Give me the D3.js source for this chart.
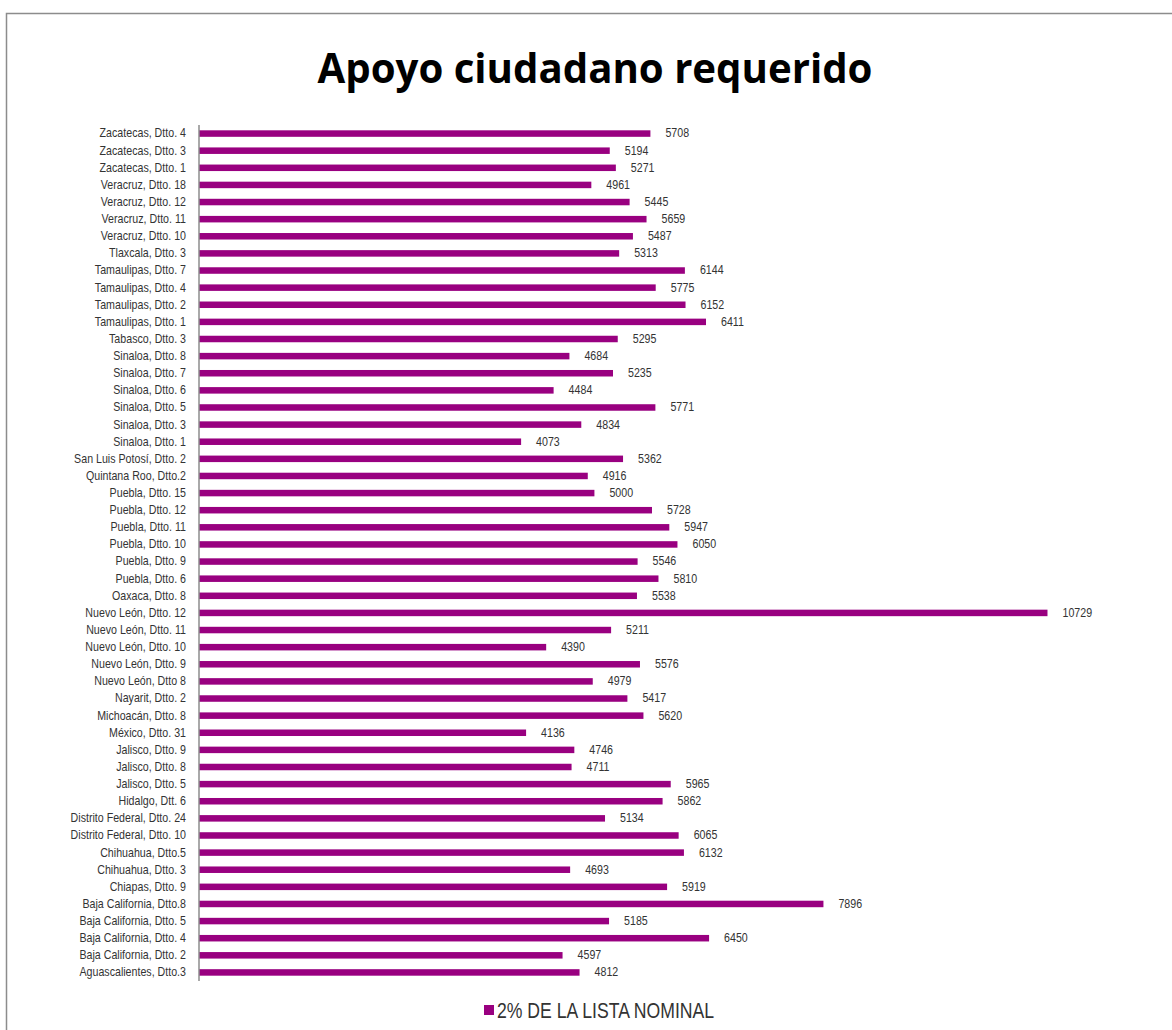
<!DOCTYPE html>
<html>
<head>
<meta charset="utf-8">
<script src="https://cdn.jsdelivr.net/npm/d3@7"></script>
<style>
  html, body { margin: 0; padding: 0; background: #fff; }
  svg { display: block; }
</style>
</head>
<body>
<svg id="chart" width="1172" height="1030"></svg>
<script>
// ---- Data (top to bottom as shown) ----
const categories = [
  "Zacatecas, Dtto. 4", "Zacatecas, Dtto. 3", "Zacatecas, Dtto. 1",
  "Veracruz, Dtto. 18", "Veracruz, Dtto. 12", "Veracruz, Dtto. 11", "Veracruz, Dtto. 10",
  "Tlaxcala, Dtto. 3",
  "Tamaulipas, Dtto. 7", "Tamaulipas, Dtto. 4", "Tamaulipas, Dtto. 2", "Tamaulipas, Dtto. 1",
  "Tabasco, Dtto. 3",
  "Sinaloa, Dtto. 8", "Sinaloa, Dtto. 7", "Sinaloa, Dtto. 6", "Sinaloa, Dtto. 5", "Sinaloa, Dtto. 3", "Sinaloa, Dtto. 1",
  "San Luis Potosí, Dtto. 2", "Quintana Roo, Dtto.2",
  "Puebla, Dtto. 15", "Puebla, Dtto. 12", "Puebla, Dtto. 11", "Puebla, Dtto. 10", "Puebla, Dtto. 9", "Puebla, Dtto. 6",
  "Oaxaca, Dtto. 8",
  "Nuevo León, Dtto. 12", "Nuevo León, Dtto. 11", "Nuevo León, Dtto. 10", "Nuevo León, Dtto. 9", "Nuevo León, Dtto 8",
  "Nayarit, Dtto. 2", "Michoacán, Dtto. 8", "México, Dtto. 31",
  "Jalisco, Dtto. 9", "Jalisco, Dtto. 8", "Jalisco, Dtto. 5",
  "Hidalgo, Dtt. 6",
  "Distrito Federal, Dtto. 24", "Distrito Federal, Dtto. 10",
  "Chihuahua, Dtto.5", "Chihuahua, Dtto. 3",
  "Chiapas, Dtto. 9",
  "Baja California, Dtto.8", "Baja California, Dtto. 5", "Baja California, Dtto. 4", "Baja California, Dtto. 2",
  "Aguascalientes, Dtto.3"
];
const values = [
  5708, 5194, 5271,
  4961, 5445, 5659, 5487,
  5313,
  6144, 5775, 6152, 6411,
  5295,
  4684, 5235, 4484, 5771, 4834, 4073,
  5362, 4916,
  5000, 5728, 5947, 6050, 5546, 5810,
  5538,
  10729, 5211, 4390, 5576, 4979,
  5417, 5620, 4136,
  4746, 4711, 5965,
  5862,
  5134, 6065,
  6132, 4693,
  5919,
  7896, 5185, 6450, 4597,
  4812
];
const seriesName = "2% DE LA LISTA NOMINAL";
const titleText = "Apoyo ciudadano requerido";
const xDomain = [0, 12000];

// ---- Font detection: narrow font ----
function hasFont(name) {
  const c = document.createElement("canvas").getContext("2d");
  const s = "Dtto. Zacatecas 0123456789";
  c.font = "20px monospace";
  const w0 = c.measureText(s).width;
  c.font = "20px '" + name + "', monospace";
  return c.measureText(s).width !== w0;
}
const narrowAvail = hasFont("Liberation Sans Narrow");
const labelFont = narrowAvail ? "'Liberation Sans Narrow', 'Arial Narrow', sans-serif" : "'Liberation Sans', Arial, sans-serif";
const squeeze = narrowAvail ? 1 : 0.82;

const data = categories.map((c, i) => ({ cat: c, val: values[i] }));

const svg = d3.select("#chart");
const color = "#990080";
const textColor = "#333333";

// frame
svg.append("path")
  .attr("d", "M6.5,1030 L6.5,13.5 L1172,13.5")
  .attr("fill", "none").attr("stroke", "#8c8c8c").attr("stroke-width", 1.5);

// title
svg.append("text")
  .attr("x", 595).attr("y", 83)
  .attr("text-anchor", "middle")
  .attr("font-family", "'Open Sans', 'Noto Sans', sans-serif")
  .attr("font-weight", "bold")
  .attr("font-size", 42)
  .attr("fill", "#000")
  .attr("textLength", 555)
  .attr("lengthAdjust", "spacingAndGlyphs")
  .text(titleText);

const x = d3.scaleLinear().domain(xDomain).range([199, 1148]);
const y = d3.scaleBand().domain(categories).range([125, 981]).paddingInner(0.62).paddingOuter(0.31);

// bars
svg.append("g").selectAll("rect").data(data).join("rect")
  .attr("x", x(0))
  .attr("y", d => y(d.cat))
  .attr("width", d => x(d.val) - x(0))
  .attr("height", y.bandwidth())
  .attr("fill", color);

// category labels (y axis)
const yAxis = d3.axisLeft(y).tickSize(0).tickPadding(0);
const gy = svg.append("g").attr("transform", "translate(199,0)").call(yAxis);
gy.select(".domain").remove();
gy.selectAll(".tick text")
  .attr("x", 0).attr("dy", null)
  .attr("font-family", labelFont)
  .attr("font-size", 13)
  .attr("fill", textColor)
  .attr("text-anchor", "end")
  .attr("dominant-baseline", "middle")
  .attr("transform", `translate(-13,0.5) scale(${squeeze},1)`);

// axis line
svg.append("line")
  .attr("x1", 199).attr("x2", 199)
  .attr("y1", 125).attr("y2", 981)
  .attr("stroke", "#8c8c8c").attr("stroke-width", 1.5);

// value labels
svg.append("g").selectAll("text").data(data).join("text")
  .attr("transform", d => `translate(${x(d.val) + 15},${y(d.cat) + y.bandwidth() / 2 + 0.5}) scale(${squeeze},1)`)
  .attr("dominant-baseline", "middle")
  .attr("font-family", labelFont)
  .attr("font-size", 13)
  .attr("fill", textColor)
  .text(d => d.val);

// legend
const lg = svg.append("g");
lg.append("rect").attr("x", 484).attr("y", 1005).attr("width", 10).attr("height", 10).attr("fill", color);
lg.append("text")
  .attr("transform", `translate(497,1017.5) scale(${squeeze},1)`)
  .attr("font-family", labelFont)
  .attr("font-size", 21.5)
  .attr("fill", textColor)
  .text(seriesName);
</script>
</body>
</html>
